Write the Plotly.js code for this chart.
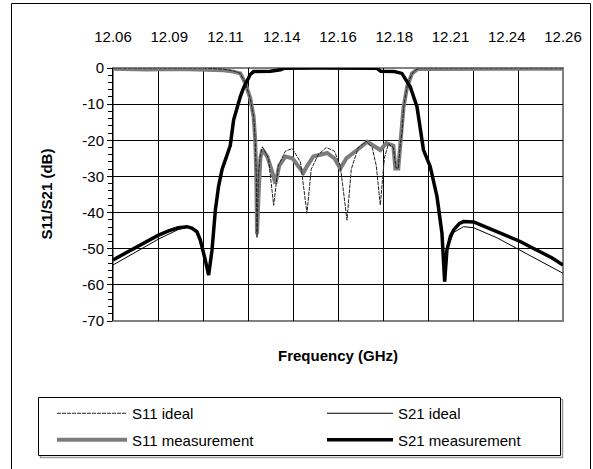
<!DOCTYPE html>
<html>
<head>
<meta charset="utf-8">
<script src="https://cdn.plot.ly/plotly-3.0.1.min.js"></script>
<style>
html,body{margin:0;padding:0;background:#fff;}
#chart{width:593px;height:469px;}
</style>
</head>
<body>
<div id="chart"></div>
<script>
// ---- data (frequency in GHz, level in dB) ----
const s11IdealF = [12.0600,12.0800,12.1000,12.1090,12.1135,12.1166,12.1188,12.1210,12.1225,12.1232,12.1237,12.1240,12.1246,12.1255,12.1264,12.1291,12.1314,12.1335,12.1366,12.1397,12.1433,12.1462,12.1481,12.1512,12.1548,12.1584,12.1610,12.1640,12.1659,12.1690,12.1726,12.1752,12.1770,12.1788,12.1806,12.1824,12.1846,12.1857,12.1868,12.1877,12.1884,12.1892,12.1907,12.1929,12.1951,12.1966,12.2200,12.2600];
const s11IdealDb = [0,0,0,-0.3,-0.8,-1.5,-4.2,-8.4,-13.5,-20,-30,-47,-30,-24,-21.8,-25,-38,-27,-23,-22.3,-26,-40.2,-28,-24,-22,-23,-27,-42.1,-28,-22,-20.3,-22,-27,-37.9,-25,-21,-22,-27.5,-27.8,-21,-18,-10.7,-5.2,-1.5,-0.3,0,0,0];

const s21IdealF = [12.0600,12.0650,12.0700,12.0750,12.0800,12.0850,12.0890,12.0930,12.0950,12.0973,12.0988,12.1010,12.1025,12.1040,12.1055,12.1069,12.1085,12.1099,12.1121,12.1136,12.1150,12.1166,12.1180,12.1196,12.1210,12.1225,12.1300,12.1344,12.1360,12.1500,12.1700,12.1773,12.1790,12.1850,12.1884,12.1900,12.1921,12.1951,12.1980,12.2010,12.2040,12.2062,12.2074,12.2084,12.2114,12.2158,12.2203,12.2307,12.2410,12.2499,12.2600];
const s21IdealDb = [-54.5,-52.8,-51.0,-49.2,-47.4,-45.8,-44.7,-44.1,-44.4,-45.3,-47.6,-53.1,-57.3,-50.4,-39.3,-32.8,-28.0,-25.5,-21.5,-14.4,-11.0,-7.9,-5.5,-3.3,-1.8,-1.0,-0.9,-0.5,-0.1,0,0,-0.1,-0.9,-1.0,-1.5,-3.0,-5.2,-10.7,-22.7,-27.3,-35.6,-45.7,-59.1,-50.4,-45.5,-43.9,-44.2,-47.0,-50.4,-53.3,-56.8];

const s11MeasF = [12.0600,12.0750,12.0900,12.1000,12.1090,12.1135,12.1166,12.1188,12.1210,12.1225,12.1232,12.1237,12.1240,12.1247,12.1255,12.1264,12.1286,12.1304,12.1322,12.1339,12.1366,12.1397,12.1428,12.1446,12.1464,12.1490,12.1521,12.1552,12.1584,12.1610,12.1637,12.1668,12.1699,12.1730,12.1757,12.1788,12.1815,12.1846,12.1855,12.1868,12.1877,12.1884,12.1891,12.1907,12.1929,12.1953,12.2100,12.2300,12.2600];
const s11MeasDb = [-0.2,-0.4,-0.3,-0.5,-0.6,-1.0,-1.5,-4.2,-8.4,-13.5,-20,-30,-46,-35,-25,-22.5,-24.5,-28,-32,-27,-24.5,-25,-27.5,-29,-27,-24.5,-24,-23.5,-25,-27.8,-25,-23.6,-22,-20.4,-21.5,-22.7,-20.8,-21.5,-27.8,-27.8,-21,-17,-11,-5.2,-1.5,-0.3,-0.3,-0.2,-0.2];

const s21MeasF = [12.0600,12.0650,12.0700,12.0750,12.0800,12.0850,12.0890,12.0930,12.0950,12.0973,12.0988,12.1010,12.1025,12.1040,12.1055,12.1069,12.1085,12.1099,12.1121,12.1136,12.1150,12.1166,12.1180,12.1196,12.1210,12.1225,12.1300,12.1344,12.1360,12.1500,12.1700,12.1773,12.1790,12.1850,12.1884,12.1900,12.1921,12.1951,12.1980,12.2010,12.2040,12.2062,12.2074,12.2084,12.2100,12.2114,12.2140,12.2158,12.2203,12.2250,12.2307,12.2360,12.2410,12.2450,12.2499,12.2550,12.2600];
const s21MeasDb = [-53.1,-51.4,-49.8,-48.0,-46.3,-45.0,-44.2,-43.9,-44.3,-45.3,-47.6,-53.1,-57.3,-50.4,-39.3,-32.8,-28.0,-25.5,-21.5,-14.4,-11.0,-7.9,-5.5,-3.3,-1.8,-1.0,-0.9,-0.5,-0.1,0,0,-0.1,-0.9,-1.0,-1.5,-3.0,-5.2,-10.7,-22.7,-27.3,-35.6,-45.7,-59.1,-50.4,-46.5,-44.8,-43.0,-42.5,-42.6,-43.8,-45.3,-46.6,-48.0,-49.3,-50.8,-52.5,-54.5];

const topTickVals = [12.06,12.085,12.11,12.135,12.16,12.185,12.21,12.235,12.26];
const topTickText = ['12.06','12.09','12.11','12.14','12.16','12.18','12.21','12.24','12.26'];
const yTickVals = [0,-10,-20,-30,-40,-50,-60,-70];
const yTickText = ['0','-10','-20','-30','-40','-50','-60','-70'];

const FONT = '"Liberation Sans", Arial, sans-serif';

const traces = [
  {x: s11MeasF, y: s11MeasDb, name: 'S11 measurement', mode: 'lines', legend: 'legend',
   legendgroup: 'b', legendrank: 2, line: {color: '#7c7c7c', width: 4}},
  {x: s21MeasF, y: s21MeasDb, name: 'S21 measurement', mode: 'lines', legend: 'legend2',
   legendgroup: 'd', legendrank: 2, line: {color: '#000000', width: 3.5}},
  {x: s11IdealF, y: s11IdealDb, name: 'S11 ideal', mode: 'lines', legend: 'legend',
   legendgroup: 'a', legendrank: 1, line: {color: '#222222', width: 1, dash: '4px,1px'}},
  {x: s21IdealF, y: s21IdealDb, name: 'S21 ideal', mode: 'lines', xaxis: 'x2', legend: 'legend2',
   legendgroup: 'c', legendrank: 1, line: {color: '#000000', width: 1}}
];

// plot area geometry helpers for frame shapes
const L = 113, T = 68, W = 450, H = 253;
const px = v => (v - L) / W;
const py = v => (T + H - v) / H;

const legendBase = {
  orientation: 'v', xref: 'container', yref: 'container',
  y: 1 - 397 / 469, xanchor: 'left', yanchor: 'top',
  bgcolor: 'rgba(0,0,0,0)', borderwidth: 0,
  traceorder: 'grouped', tracegroupgap: 4,
  font: {size: 15, family: FONT}
};

const layout = {
  width: 593, height: 469,
  margin: {l: L, r: 593 - L - W, t: T, b: 469 - T - H, autoexpand: false},
  paper_bgcolor: '#ffffff', plot_bgcolor: '#ffffff',
  font: {family: FONT, size: 15, color: '#000'},
  showlegend: true,
  xaxis: {
    range: [12.06, 12.26], tick0: 12.06, dtick: 0.02,
    showticklabels: false, ticks: '', showgrid: true, gridcolor: '#000', gridwidth: 1,
    zeroline: false, showline: false,
    title: {text: '<b>Frequency (GHz)</b>', font: {size: 15, family: FONT}, standoff: 29}
  },
  xaxis2: {
    overlaying: 'x', side: 'top', range: [12.06, 12.26], anchor: 'y',
    tickmode: 'array', tickvals: topTickVals, ticktext: topTickText,
    ticks: '', showgrid: false, zeroline: false, showline: false,
    ticklabelstandoff: 22, tickfont: {size: 15, family: FONT}
  },
  yaxis: {
    range: [-70, 0], tickmode: 'array', tickvals: yTickVals, ticktext: yTickText,
    ticks: 'outside', ticklen: 5, tickcolor: '#000', tickwidth: 1,
    minor: {dtick: 2, tick0: 0, ticks: 'outside', ticklen: 4, tickcolor: '#000', showgrid: false},
    showgrid: true, gridcolor: '#000', gridwidth: 1, zeroline: false,
    showline: true, linecolor: '#000', linewidth: 1,
    tickfont: {size: 15, family: FONT}
  },
  annotations: [
    {text: '<b>S11/S21 (dB)</b>', textangle: -90, xref: 'paper', yref: 'paper',
     x: px(46), y: 0.5, xanchor: 'center', yanchor: 'middle', showarrow: false,
     font: {size: 15, family: FONT, color: '#000'}}
  ],
  legend: Object.assign({}, legendBase, {x: 52 / 593, itemwidth: 70}),
  legend2: Object.assign({}, legendBase, {x: 322 / 593, itemwidth: 66}),
  shapes: [
    // plot area border (gray)
    {type: 'rect', xref: 'paper', yref: 'paper', x0: 0, x1: 1, y0: 0, y1: 1,
     line: {color: '#808080', width: 2}, layer: 'below'},
    // legend box shadow
    {type: 'rect', xref: 'paper', yref: 'paper', x0: px(40.5), x1: px(562.5), y0: py(457.5), y1: py(399.5),
     line: {color: '#9a9a9a', width: 1.5}, fillcolor: 'rgba(0,0,0,0)'},
    // legend box
    {type: 'rect', xref: 'paper', yref: 'paper', x0: px(38.5), x1: px(560.5), y0: py(455.5), y1: py(397.5),
     line: {color: '#000', width: 1}, fillcolor: '#ffffff'},
    // chart outer border
    {type: 'rect', xref: 'paper', yref: 'paper', x0: px(11.5), x1: px(590.5), y0: py(490), y1: py(3.5),
     line: {color: '#000', width: 1}, fillcolor: 'rgba(0,0,0,0)'}
  ]
};

Plotly.newPlot('chart', traces, layout, {staticPlot: true, displayModeBar: false});
</script>
</body>
</html>
